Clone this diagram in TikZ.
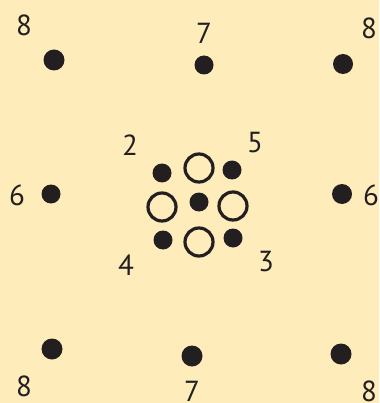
\documentclass[tikz,border=0pt]{standalone}
\usepackage{fontspec}
\setmainfont{PT Sans}
\begin{document}
\begin{tikzpicture}[x=1pt,y=-1pt,
  dotf/.style={circle,fill=ink,inner sep=0pt,minimum size=19pt},
  doto/.style={circle,draw=ink,line width=3.2pt,inner sep=0pt,minimum size=28pt},
  lbl/.style={text=ink,font=\fontsize{29}{32}\selectfont,inner sep=0pt}]
\definecolor{bg}{RGB}{254,236,187}
\definecolor{ink}{RGB}{35,31,32}
\fill[bg] (0,0) rectangle (379,403);
\useasboundingbox (0,0) rectangle (379,403);
% outer dots
\node[dotf,minimum size=21pt] (tl) at (54,60) {};
\node[dotf] (tm) at (204,65) {};
\node[dotf,minimum size=20pt] (tr) at (343,64) {};
\node[dotf] (ml) at (51,194) {};
\node[dotf,minimum size=20pt] (mr) at (342,194) {};
\node[dotf,minimum size=21pt] (bl) at (52,349) {};
\node[dotf,minimum size=21pt] (bm) at (192,356) {};
\node[dotf,minimum size=21pt] (br) at (341,354) {};
% outer labels
\node[lbl] (ltl) at (24,25) {8};
\node[lbl] (ltm) at (204,33) {7};
\node[lbl] (ltr) at (369,28) {8};
\node[lbl] (lml) at (17,195) {6};
\node[lbl] (lmr) at (371,195) {6};
\node[lbl] (lbl) at (24,386) {8};
\node[lbl] (lbm) at (192,391) {7};
\node[lbl] (lbr) at (369,391) {8};
% center cluster
\node[dotf] (c1) at (162,173) {};
\node[doto] (o1) at (199,168) {};
\node[dotf] (c2) at (232,170) {};
\node[doto] (o2) at (162,207) {};
\node[dotf] (c0) at (199,202) {};
\node[doto] (o3) at (233,206) {};
\node[dotf] (c3) at (163,240) {};
\node[doto] (o4) at (199,242) {};
\node[dotf] (c4) at (233,238) {};
% center labels
\node[lbl] (l2) at (130,145) {2};
\node[lbl] (l5) at (255,143) {5};
\node[lbl] (l4) at (126,265) {4};
\node[lbl] (l3) at (266,262) {3};
\end{tikzpicture}
\end{document}
